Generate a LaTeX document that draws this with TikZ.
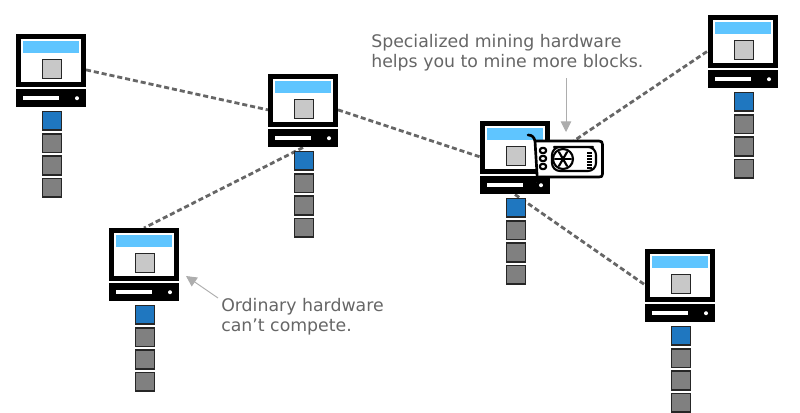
\documentclass[tikz,border=0pt]{standalone}
\usepackage{fontspec}
\setmainfont{DejaVu Sans}
\usepackage{xcolor}
\usepackage{tikz}
\usetikzlibrary{arrows.meta, backgrounds, positioning}
\definecolor{bannerblue}{HTML}{5FC5FF}
\definecolor{blockblue}{HTML}{1F77C0}
\definecolor{blockgray}{HTML}{808080}
\definecolor{screengray}{HTML}{C8C8C8}
\definecolor{notegray}{HTML}{666666}
\definecolor{arrowgray}{HTML}{ADADAD}
\tikzset{
    monitornode/.style = {draw=black, fill=white, rectangle, line width=3.75pt, inner sep=0em,
      minimum width=48.75pt, minimum height=36pt, node distance=0em},
    bannernode/.style = {fill=bannerblue, rectangle, inner sep=0em, minimum width=42pt, minimum height=9pt, node distance=0em},
    screennode/.style = {draw=black!85, fill=screengray, rectangle, line width=1.2pt, inner sep=0em, minimum size=14pt, node distance=0em},
    basenode/.style = {fill=black, rectangle, inner sep=0em, minimum width=52.5pt, minimum height=13.5pt, node distance=0em},
    slotnode/.style = {fill=white, rectangle, inner sep=0em, minimum width=27pt, minimum height=3pt, node distance=0em},
    lednode/.style = {fill=white, circle, inner sep=0em, minimum size=3pt, node distance=0em},
    blocknode/.style = {draw=black!85, rectangle, line width=1.2pt, inner sep=0em, minimum size=14pt, node distance=0em},
    textnode/.style = {draw=none, fill=none, rectangle, inner sep=0em, text=notegray, align=left,
      font=\fontsize{13}{15}\selectfont},
    connect/.style = {draw=notegray, line width=2.1pt, dash pattern=on 3.8pt off 2.2pt},
    notearrow/.style = {draw=arrowgray, line width=0.7pt, -{Triangle[length=8pt,width=8pt]}},
    gpuline/.style = {draw=black, line width=2pt, line join=round, line cap=round},
    gpufine/.style = {draw=black, line width=1.6pt, line join=round, line cap=round}
}
% one computer with its chain of four blocks
\newcommand{\computer}[2]{
    \node [name=#1, monitornode] at (#2) {};
    \node [name=#1banner, bannernode, above of = #1, yshift=10.1pt] {};
    \node [name=#1screen, screennode, below of = #1, xshift=0.75pt, yshift=-6.4pt] {};
    \node [name=#1base, basenode, below of = #1, yshift=-28.3pt] {};
    \node [name=#1slot, slotnode, left of = #1base, xshift=-7.5pt] {};
    \node [name=#1led, lednode, right of = #1base, xshift=19.5pt] {};
    \node [name=#1chaina, blocknode, fill=blockblue, below of = #1base, xshift=0.75pt, yshift=-17pt] {};
    \node [name=#1chainb, blocknode, fill=blockgray, below of = #1chaina, yshift=-16.7pt] {};
    \node [name=#1chainc, blocknode, fill=blockgray, below of = #1chainb, yshift=-16.7pt] {};
    \node [name=#1chaind, blocknode, fill=blockgray, below of = #1chainc, yshift=-16.7pt] {};
}
\begin{document}
\begin{tikzpicture}[x=0.75pt, y=-0.75pt]
    \useasboundingbox (0,0) rectangle (800,413);

    \computer{pca}{51,60.5}
    \computer{pcb}{303,100.5}
    \computer{pcc}{144,254.5}
    \computer{pcd}{515,147.5}
    \computer{pce}{743,41.5}
    \computer{pcf}{680,275.5}

    \begin{scope}[on background layer]
        \draw [connect] (pca.-15.5) -- (pcb.195.5);
        \draw [connect] (pcb.-15.5) -- (pcd.195.5);
        \draw [connect] (pcbbase.south) -- (pcc.north);
        \draw [connect] (pcd.-15.5) -- (pce.195.5);
        \draw [connect] (pcdbase.south) -- (pcf.195.5);
    \end{scope}

    % graphics card in front of the fourth computer
    \fill [white] (535,141) -- (600,141) -- (603,144) -- (603,175) -- (600,178) -- (539,178) -- (537,183) -- cycle;
    \draw [gpuline] (528,135) .. controls (532,135) and (534,137) .. (535,141) -- (599,141)
        .. controls (601.5,141) and (602.5,142) .. (602.5,144.5) -- (602.5,174)
        .. controls (602.5,176.5) and (601.5,177) .. (599,177) -- (539,177) -- (537.5,182) -- (535,141);
    \draw [gpufine, rounded corners=1.5pt] (540,148) rectangle (546,153);
    \draw [gpufine, rounded corners=1.5pt] (540,156) rectangle (546,161);
    \draw [gpufine, rounded corners=1.5pt] (540,164) rectangle (546,169);
    \draw [gpufine, rounded corners=6pt] (590,147) -- (562,147) -- (552,147) -- (552,171) -- (596,171) -- (596,147) -- (593,147);
    \draw [gpufine] (563,159) circle [radius=10];
    \fill [black] (563,159) circle [radius=2.5];
    \foreach \a in {0,60,...,300}
        \draw [gpufine] (563,159) -- ++(\a:8);
    \foreach \v in {153,156,159,162,165,168}
        \draw [draw=black, line width=1.3pt] (587,\v) -- (592,\v);

    \node [name=specialtext, textnode, anchor=north west] at (371,34) {Specialized mining hardware\\helps you to mine more blocks.};
    \node [name=ordinarytext, textnode, anchor=north west] at (221,298) {Ordinary hardware\\can’t compete.};

    \coordinate (gpunote) at (566,132);
    \coordinate (pcnote) at (186,276);
    \draw [notearrow] (gpunote |- specialtext.south) ++(0,7) -- (gpunote);
    \draw [notearrow] (ordinarytext.north west) ++(-3,0) -- (pcnote);
\end{tikzpicture}
\end{document}
